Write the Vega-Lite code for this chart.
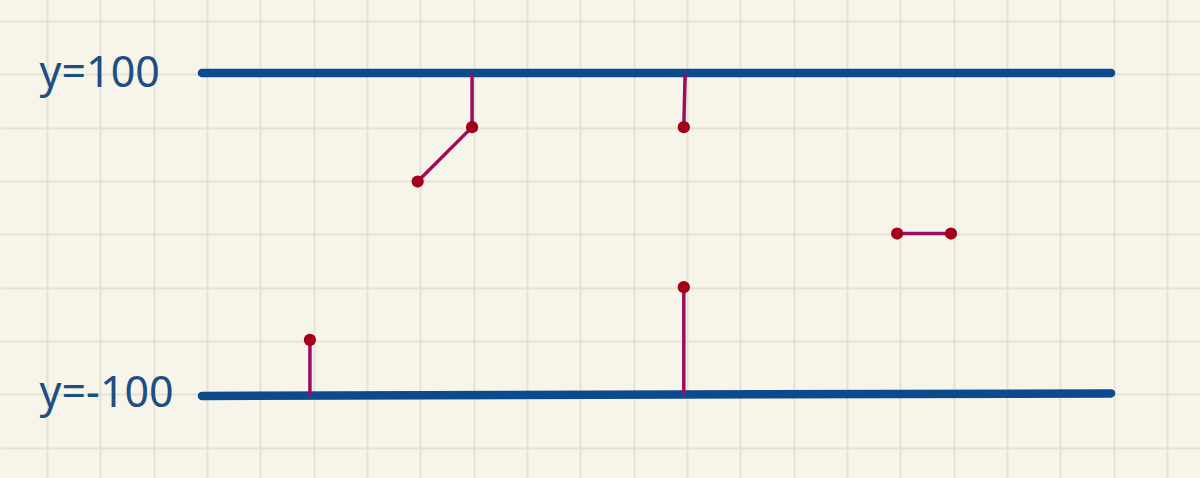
{
  "$schema": "https://vega.github.io/schema/vega-lite/v6.json",
  "autosize": {"type": "fit", "contains": "padding"},
  "width": 1200,
  "height": 478,
  "padding": 0,
  "background": "#f7f5e9",
  "config": {"view": {"stroke": null}},
  "datasets": {
    "guides": [
      {"name": "top", "x": 2.906, "y": 100.8, "x2": 19.95, "y2": 100.8},
      {"name": "bottom", "x": 2.906, "y": -101.0, "x2": 19.95, "y2": -99.4}
    ],
    "segments": [
      {"x": 7.97, "y": 100.8, "x2": 7.97, "y2": 67},
      {"x": 7.97, "y": 67, "x2": 6.95, "y2": 33},
      {"x": 11.965, "y": 100.8, "x2": 11.94, "y2": 67},
      {"x": 15.94, "y": 0.5, "x2": 16.95, "y2": 0.5},
      {"x": 4.93, "y": -66, "x2": 4.93, "y2": -100.6},
      {"x": 11.94, "y": -33, "x2": 11.94, "y2": -99.9}
    ],
    "points": [
      {"x": 6.95, "y": 33},
      {"x": 7.97, "y": 67},
      {"x": 11.94, "y": 67},
      {"x": 15.94, "y": 0.5},
      {"x": 16.95, "y": 0.5},
      {"x": 4.93, "y": -66},
      {"x": 11.94, "y": -33}
    ],
    "labels": [
      {"x": -0.14, "y": 91.8, "label": "y=100"},
      {"x": -0.14, "y": -108.2, "label": "y=-100"}
    ]
  },
  "layer": [
    {
      "data": {"name": "guides"},
      "mark": {"type": "rule", "strokeWidth": 8.5, "strokeCap": "round", "color": "#0b4a8c"},
      "encoding": {
        "x": {
          "field": "x",
          "type": "quantitative",
          "scale": {"domain": [-0.88125, 21.61875], "nice": false, "zero": false},
          "axis": {
            "values": [0, 1, 2, 3, 4, 5, 6, 7, 8, 9, 10, 11, 12, 13, 14, 15, 16, 17, 18, 19, 20, 21],
            "grid": true,
            "gridColor": "#e5e2d5",
            "gridWidth": 2,
            "gridOpacity": 1,
            "labels": false,
            "ticks": false,
            "domain": false,
            "title": null
          }
        },
        "x2": {"field": "x2"},
        "y": {
          "field": "y",
          "type": "quantitative",
          "scale": {"domain": [-152.29, 146.46], "nice": false, "zero": false},
          "axis": {
            "values": [133.33, 100, 66.67, 33.33, 0, -33.33, -66.67, -100, -133.33],
            "grid": true,
            "gridColor": "#e5e2d5",
            "gridWidth": 2,
            "gridOpacity": 1,
            "labels": false,
            "ticks": false,
            "domain": false,
            "title": null
          }
        },
        "y2": {"field": "y2"}
      }
    },
    {
      "data": {"name": "segments"},
      "mark": {"type": "rule", "strokeWidth": 3.5, "color": "#9c0c62"},
      "encoding": {
        "x": {"field": "x", "type": "quantitative"},
        "x2": {"field": "x2"},
        "y": {"field": "y", "type": "quantitative"},
        "y2": {"field": "y2"}
      }
    },
    {
      "data": {"name": "points"},
      "mark": {"type": "circle", "size": 150, "opacity": 1, "color": "#a5001a"},
      "encoding": {
        "x": {"field": "x", "type": "quantitative"},
        "y": {"field": "y", "type": "quantitative"}
      }
    },
    {
      "data": {"name": "labels"},
      "mark": {
        "type": "text",
        "align": "left",
        "baseline": "alphabetic",
        "font": "Noto Sans",
        "fontSize": 43,
        "color": "#1c4f84"
      },
      "encoding": {
        "x": {"field": "x", "type": "quantitative"},
        "y": {"field": "y", "type": "quantitative"},
        "text": {"field": "label"}
      }
    }
  ]
}
